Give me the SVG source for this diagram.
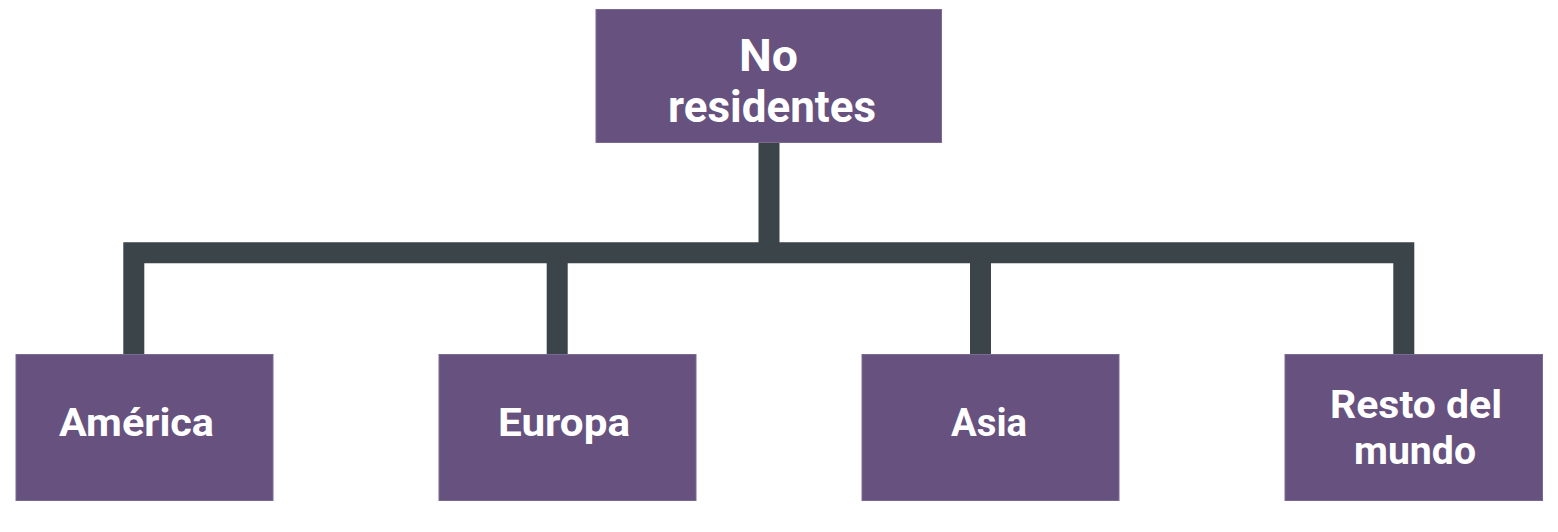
<svg xmlns="http://www.w3.org/2000/svg" width="1558" height="532" viewBox="0 0 1558 532">
<style>
.box{fill:#66517f;stroke:#7a6a92;stroke-width:1}
.lbl{font-family:Roboto,"Liberation Sans",sans-serif;font-weight:700;fill:#ffffff}
.top{font-size:45px}
.bot{font-size:39px}
.con{fill:none;stroke:#3a4449;stroke-width:21;stroke-linejoin:miter;stroke-linecap:butt}
</style>
<rect width="1558" height="532" fill="#ffffff"/>
<g id="connectors">
<path class="con" d="M769 142 V252.8"/>
<path class="con" d="M133.8 354 V252.8 H1403.8 V354"/>
<path class="con" d="M557.2 252.8 V354"/>
<path class="con" d="M980.5 252.8 V354"/>
</g>
<g id="no-residentes">
<rect class="box" x="596" y="9.5" width="345.5" height="133"/>
<text class="lbl top" x="739" y="71" textLength="59" lengthAdjust="spacingAndGlyphs">No</text>
<text class="lbl top" x="668" y="122" textLength="208" lengthAdjust="spacingAndGlyphs">residentes</text>
</g>
<g id="america">
<rect class="box" x="16" y="354.5" width="257" height="146"/>
<text class="lbl bot" x="59" y="436" textLength="155" lengthAdjust="spacingAndGlyphs">América</text>
</g>
<g id="europa">
<rect class="box" x="439" y="354.5" width="257" height="146"/>
<text class="lbl bot" x="498" y="436" textLength="132" lengthAdjust="spacingAndGlyphs">Europa</text>
</g>
<g id="asia">
<rect class="box" x="862" y="354.5" width="257" height="146"/>
<text class="lbl bot" x="951" y="436" textLength="76" lengthAdjust="spacingAndGlyphs">Asia</text>
</g>
<g id="resto-del-mundo">
<rect class="box" x="1285" y="354.5" width="257.5" height="146"/>
<text class="lbl bot" x="1330" y="418" textLength="172" lengthAdjust="spacingAndGlyphs">Resto del</text>
<text class="lbl bot" x="1354" y="464" textLength="122" lengthAdjust="spacingAndGlyphs">mundo</text>
</g>
</svg>
